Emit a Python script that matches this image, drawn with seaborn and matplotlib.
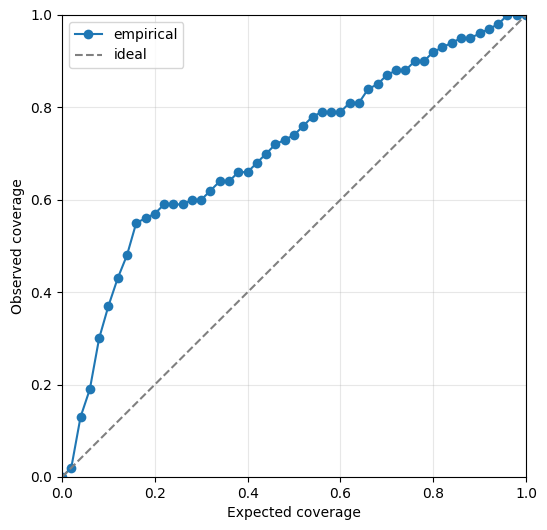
import numpy as np
import pandas as pd
import matplotlib
matplotlib.use("Agg")
import matplotlib.pyplot as plt
import seaborn as sns

# expected coverage levels
expected = [0.00, 0.02, 0.04, 0.06, 0.08, 0.10, 0.12, 0.14, 0.16, 0.18,
            0.20, 0.22, 0.24, 0.26, 0.28, 0.30, 0.32, 0.34, 0.36, 0.38,
            0.40, 0.42, 0.44, 0.46, 0.48, 0.50, 0.52, 0.54, 0.56, 0.58,
            0.60, 0.62, 0.64, 0.66, 0.68, 0.70, 0.72, 0.74, 0.76, 0.78,
            0.80, 0.82, 0.84, 0.86, 0.88, 0.90, 0.92, 0.94, 0.96, 0.98, 1.00]
# observed (empirical) coverage
observed = [0.00, 0.02, 0.13, 0.19, 0.30, 0.37, 0.43, 0.48, 0.55, 0.56,
            0.57, 0.59, 0.59, 0.59, 0.60, 0.60, 0.62, 0.64, 0.64, 0.66,
            0.66, 0.68, 0.70, 0.72, 0.73, 0.74, 0.76, 0.78, 0.79, 0.79,
            0.79, 0.81, 0.81, 0.84, 0.85, 0.87, 0.88, 0.88, 0.90, 0.90,
            0.92, 0.93, 0.94, 0.95, 0.95, 0.96, 0.97, 0.98, 1.00, 1.00, 1.00]
ideal = [0, 1]

df = pd.DataFrame({'expected': expected, 'observed': observed})

fig = plt.figure(figsize=(5.47, 5.3), dpi=100)
ax = fig.add_axes([62 / 547, 53 / 530, 464 / 547, 462 / 530])

sns.lineplot(data=df, x='expected', y='observed', marker='o', markersize=7,
             markeredgewidth=0, color='#1f77b4', label='empirical', ax=ax)
sns.lineplot(x=ideal, y=ideal, linestyle='--', color='gray', label='ideal', ax=ax)

ax.set_xlim(0, 1)
ax.set_ylim(0, 1)
ax.set_xlabel('Expected coverage')
ax.set_ylabel('Observed coverage')
ax.grid(True, alpha=0.3)
ax.legend(loc='upper left')

fig.savefig('out.png', dpi=100)
